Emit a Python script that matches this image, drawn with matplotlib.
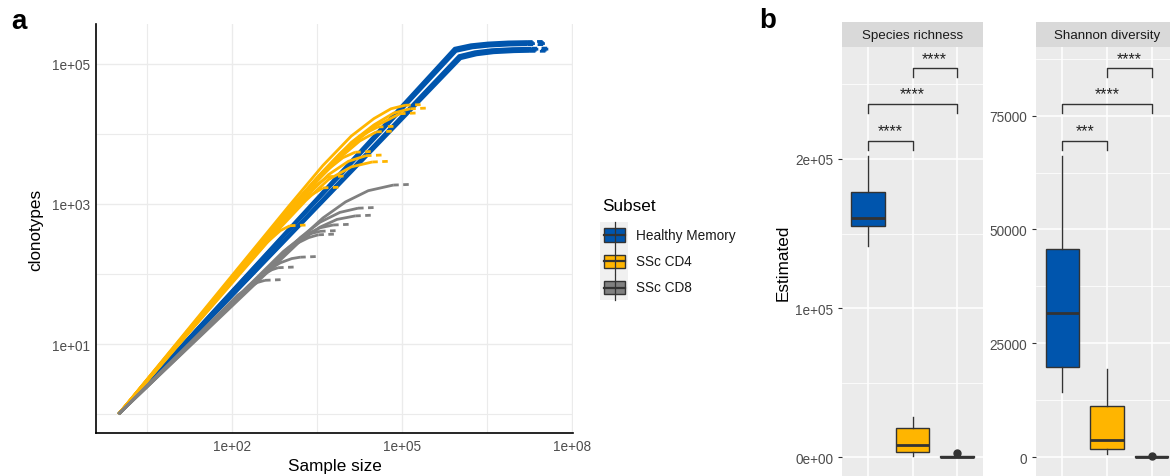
import numpy as np
import matplotlib.pyplot as plt
from matplotlib.patches import Rectangle

plt.rcParams['font.family'] = ['Liberation Sans', 'DejaVu Sans']

W, H = 1170, 477

hm_col = '#0055AD'
cd4_col = '#FFB500'
cd8_col = '#808080'
edge = '#333333'

# ---- panel a: rarefaction curves (log10 sample size, log10 clonotypes)
# solid part ends at the observed sample, then dashed extrapolation
hm_logx = [
    [0, 5.92, 6.21, 6.51, 6.87, 7.20],
    [0, 5.93, 6.22, 6.52, 6.88, 7.22],
    [0, 5.94, 6.23, 6.53, 6.89, 7.24],
    [0, 5.95, 6.24, 6.54, 6.90, 7.21],
    [0, 6.00, 6.28, 6.58, 6.94, 7.28],
    [0, 6.01, 6.29, 6.59, 6.95, 7.30],
    [0, 6.02, 6.30, 6.60, 6.96, 7.27],
    [0, 6.03, 6.31, 6.61, 6.97, 7.25],
]
hm_logy = [
    [0, 5.225, 5.275, 5.30, 5.315, 5.32],
    [0, 5.21, 5.26, 5.285, 5.30, 5.305],
    [0, 5.195, 5.245, 5.27, 5.285, 5.29],
    [0, 5.18, 5.23, 5.255, 5.27, 5.275],
    [0, 5.12, 5.175, 5.205, 5.22, 5.225],
    [0, 5.105, 5.16, 5.19, 5.205, 5.21],
    [0, 5.09, 5.145, 5.175, 5.19, 5.195],
    [0, 5.075, 5.13, 5.16, 5.175, 5.18],
]
hm_ext_logx = [7.48, 7.50, 7.53, 7.51, 7.58, 7.60, 7.57, 7.55]
hm_ext_logy = [5.322, 5.307, 5.292, 5.277, 5.227, 5.212, 5.197, 5.182]

cd4_logx = [
    [0, 3.0, 3.6, 4.1, 4.5, 4.8, 5.05],
    [0, 3.0, 3.6, 4.1, 4.5, 4.85, 5.14],
    [0, 3.0, 3.6, 4.1, 4.5, 4.96],
    [0, 3.0, 3.5, 3.9, 4.25, 4.57],
    [0, 3.0, 3.5, 3.9, 4.25, 4.54],
    [0, 2.8, 3.3, 3.7, 3.95, 4.17],
    [0, 2.8, 3.3, 3.7, 4.05, 4.36],
    [0, 2.8, 3.3, 3.7, 4.1, 4.47],
    [0, 2.5, 3.0, 3.35, 3.69],
    [0, 2.5, 2.95, 3.3, 3.60],
    [0, 2.2, 2.6, 2.85, 3.02],
]
cd4_logy = [
    [0, 2.97, 3.55, 3.97, 4.22, 4.36, 4.41],
    [0, 2.92, 3.46, 3.88, 4.13, 4.30, 4.36],
    [0, 2.90, 3.42, 3.84, 4.10, 4.29],
    [0, 2.92, 3.38, 3.72, 3.97, 4.10],
    [0, 2.88, 3.33, 3.66, 3.90, 4.03],
    [0, 2.74, 3.19, 3.50, 3.66, 3.74],
    [0, 2.66, 3.10, 3.42, 3.61, 3.69],
    [0, 2.62, 3.05, 3.35, 3.53, 3.60],
    [0, 2.42, 2.87, 3.19, 3.39],
    [0, 2.37, 2.79, 3.08, 3.23],
    [0, 2.08, 2.44, 2.62, 2.69],
]
cd4_ext_logx = [5.35, 5.44, 5.26, 4.87, 4.84, 4.47, 4.66, 4.77, 3.99, 3.90, 3.32]
cd4_ext_logy = [4.42, 4.37, 4.30, 4.11, 4.04, 3.75, 3.70, 3.61, 3.40, 3.24, 2.70]

cd8_logx = [
    [0, 3.3, 3.6, 4.0, 4.4, 4.84],
    [0, 3.2, 3.55, 3.9, 4.22],
    [0, 3.2, 3.55, 3.85, 4.17],
    [0, 3.0, 3.3, 3.55, 3.78],
    [0, 2.9, 3.15, 3.35, 3.55],
    [0, 2.9, 3.15, 3.35, 3.52],
    [0, 2.6, 2.85, 3.05, 3.20],
    [0, 2.3, 2.55, 2.7, 2.81],
    [0, 2.1, 2.3, 2.45, 2.58],
]
cd8_logy = [
    [0, 2.58, 2.80, 3.03, 3.19, 3.27],
    [0, 2.52, 2.74, 2.88, 2.94],
    [0, 2.47, 2.67, 2.78, 2.83],
    [0, 2.38, 2.56, 2.66, 2.70],
    [0, 2.32, 2.48, 2.57, 2.61],
    [0, 2.28, 2.44, 2.52, 2.56],
    [0, 2.04, 2.16, 2.22, 2.24],
    [0, 1.84, 1.99, 2.06, 2.09],
    [0, 1.70, 1.81, 1.88, 1.91],
]
cd8_ext_logx = [5.14, 4.52, 4.47, 4.08, 3.85, 3.82, 3.50, 3.11, 2.88]
cd8_ext_logy = [3.28, 2.95, 2.84, 2.71, 2.62, 2.57, 2.25, 2.10, 1.92]

subsets = ['Healthy Memory', 'SSc CD4', 'SSc CD8']

# ---- panel b: boxplot stats per subset
sr_whislo = [141800, 1070, 50]
sr_q1 = [155200, 3750, 200]
sr_med = [160200, 8240, 400]
sr_q3 = [177600, 19640, 700]
sr_whishi = [202100, 26810, 1200]
sr_fliers = [[], [], [2900]]

sd_whislo = [14270, 720, 20]
sd_q1 = [19755, 1820, 60]
sd_med = [31670, 3860, 100]
sd_q3 = [45720, 11200, 180]
sd_whishi = [66200, 19380, 300]
sd_fliers = [[], [], [350]]

pairs = [(1, 2), (1, 3), (2, 3)]
sr_bracket_y = [212200, 236800, 260700]
sr_labels = ['****', '****', '****']
sd_bracket_y = [69490, 77540, 85380]
sd_labels = ['***', '****', '****']


def fpos(x0, y0, x1, y1):
    # pixel box -> figure fraction
    return [x0 / W, 1 - y1 / H, (x1 - x0) / W, (y1 - y0) / H]


fig = plt.figure(figsize=(W / 100, H / 100), dpi=100)

# ---------- panel a
ax = fig.add_axes(fpos(96, 25, 573, 434))
groups = [
    (hm_logx, hm_logy, hm_ext_logx, hm_ext_logy, hm_col),
    (cd4_logx, cd4_logy, cd4_ext_logx, cd4_ext_logy, cd4_col),
    (cd8_logx, cd8_logy, cd8_ext_logx, cd8_ext_logy, cd8_col),
]
for lx, ly, ex, ey, col in groups:
    for i in range(len(lx)):
        x = 10 ** np.array(lx[i])
        y = 10 ** np.array(ly[i])
        ax.plot(x, y, color=col, lw=2.0, solid_capstyle='butt')
        ax.plot([x[-1], 10 ** ex[i]], [y[-1], 10 ** ey[i]], color=col, lw=2.0,
                dashes=(2.0, 1.6))

ax.set_xscale('log')
ax.set_yscale('log')
ax.set_xlim(10 ** -0.4, 10 ** 8.01)
ax.set_ylim(10 ** -0.271, 10 ** 5.571)
ax.set_xticks([1e2, 1e5, 1e8], ['1e+02', '1e+05', '1e+08'])
ax.set_xticks([10 ** 0.5, 10 ** 3.5, 10 ** 6.5], minor=True)
ax.set_yticks([1e1, 1e3, 1e5], ['1e+01', '1e+03', '1e+05'])
ax.set_yticks([1e0, 1e2, 1e4], minor=True)
ax.xaxis.set_minor_formatter(plt.NullFormatter())
ax.yaxis.set_minor_formatter(plt.NullFormatter())
ax.tick_params(which='both', length=0, labelsize=9.8, labelcolor='#4D4D4D', pad=4)
ax.grid(which='major', color='#EBEBEB', lw=1.0)
ax.grid(which='minor', color='#EBEBEB', lw=0.8)
ax.set_axisbelow(True)
for s in ['top', 'right']:
    ax.spines[s].set_visible(False)
for s in ['left', 'bottom']:
    ax.spines[s].set_linewidth(1.2)
    ax.spines[s].set_color('black')

fig.text(334.5 / W, 1 - 467 / H, 'Sample size', ha='center', va='center', fontsize=12.3)
fig.text(36 / W, 1 - 229.5 / H, 'clonotypes', ha='center', va='center', fontsize=12.3,
         rotation=90)


# ---------- panel b
def box_panel(px0, px1, ylim, stats_cols, fliers, majors, major_labels, minors,
              bracket_y, tip, labels, title):
    bx = fig.add_axes(fpos(px0, 48.3, px1, 477))
    bx.set_facecolor('#EBEBEB')
    for s in bx.spines.values():
        s.set_visible(False)
    lo, q1, med, q3, hi = stats_cols
    stats = []
    for i in range(3):
        stats.append(dict(whislo=lo[i], q1=q1[i], med=med[i], q3=q3[i],
                          whishi=hi[i], fliers=fliers[i]))
    res = bx.bxp(stats, positions=[1, 2, 3], widths=0.76, patch_artist=True,
                 showcaps=False,
                 boxprops=dict(edgecolor=edge, linewidth=1.0),
                 medianprops=dict(color=edge, linewidth=2.0),
                 whiskerprops=dict(color=edge, linewidth=1.0),
                 flierprops=dict(marker='o', markerfacecolor=edge,
                                 markeredgecolor=edge, markersize=5))
    for patch, col in zip(res['boxes'], [hm_col, cd4_col, cd8_col]):
        patch.set_facecolor(col)
    for (a, b), yb, lab in zip(pairs, bracket_y, labels):
        bx.plot([a, a, b, b], [yb - tip, yb, yb, yb - tip], color=edge, lw=1.0)
        bx.annotate(lab, ((a + b) / 2, yb), xytext=(0, 4), textcoords='offset points',
                    ha='center', va='baseline', fontsize=11.5, color='#222222')
    bx.set_xlim(0.4, 3.6)
    bx.set_ylim(*ylim)
    bx.set_xticks([1, 2, 3], ['', '', ''])
    bx.set_yticks(majors, major_labels)
    bx.set_yticks(minors, minor=True)
    bx.tick_params(axis='x', length=0)
    bx.tick_params(axis='y', which='major', length=2.7, width=0.8, color=edge,
                   labelcolor='#4D4D4D', labelsize=9.8, pad=3.3)
    bx.tick_params(axis='y', which='minor', length=0)
    bx.grid(which='major', color='white', lw=1.1)
    bx.grid(which='minor', axis='y', color='white', lw=0.55)
    bx.set_axisbelow(True)

    st = fig.add_axes(fpos(px0, 23.3, px1, 48.3))
    st.set_facecolor('#D9D9D9')
    st.set_xticks([])
    st.set_yticks([])
    for s in st.spines.values():
        s.set_visible(False)
    st.text(0.5, 0.5, title, ha='center', va='center', fontsize=9.6,
            color='#1A1A1A', transform=st.transAxes)
    return bx


box_panel(841.7, 983.3, (-12533, 274800),
          [sr_whislo, sr_q1, sr_med, sr_q3, sr_whishi], sr_fliers,
          [0, 1e5, 2e5], ['0e+00', '1e+05', '2e+05'], [5e4, 1.5e5, 2.5e5],
          sr_bracket_y, 6000, sr_labels, 'Species richness')
box_panel(1035.7, 1178.3, (-4104, 89990),
          [sd_whislo, sd_q1, sd_med, sd_q3, sd_whishi], sd_fliers,
          [0, 25000, 50000, 75000], ['0', '25000', '50000', '75000'],
          [12500, 37500, 62500, 87500],
          sd_bracket_y, 1975, sd_labels, 'Shannon diversity')

fig.text(783.3 / W, 1 - 263 / H, 'Estimated', ha='center', va='center', fontsize=12.3,
         rotation=90)

# ---------- overlay: panel letters and legend
ov = fig.add_axes([0, 0, 1, 1])
ov.set_xlim(0, W)
ov.set_ylim(H, 0)
ov.axis('off')
ov.text(11, 29, 'a', fontsize=20, fontweight='bold', va='baseline')
ov.text(759, 28.3, 'b', fontsize=20, fontweight='bold', va='baseline')

ov.text(602, 207, 'Subset', fontsize=12.3, va='center', ha='left')
ov.add_patch(Rectangle((600, 223), 28, 78, facecolor='#F0F0F0', edgecolor='none'))
for cy, col, lab in zip([236, 262.3, 288.5], [hm_col, cd4_col, cd8_col], subsets):
    ov.plot([614.7, 614.7], [cy - 12.7, cy + 12.7], color=edge, lw=0.9)
    ov.add_patch(Rectangle((604.3, cy - 6.7), 20.7, 13.4, facecolor=col,
                           edgecolor=edge, lw=1.0))
    ov.plot([604.3, 625], [cy, cy], color=edge, lw=1.6)
    ov.text(636, cy, lab, fontsize=9.8, va='center', ha='left', color='#1A1A1A')

fig.savefig('out.png', dpi=100)
